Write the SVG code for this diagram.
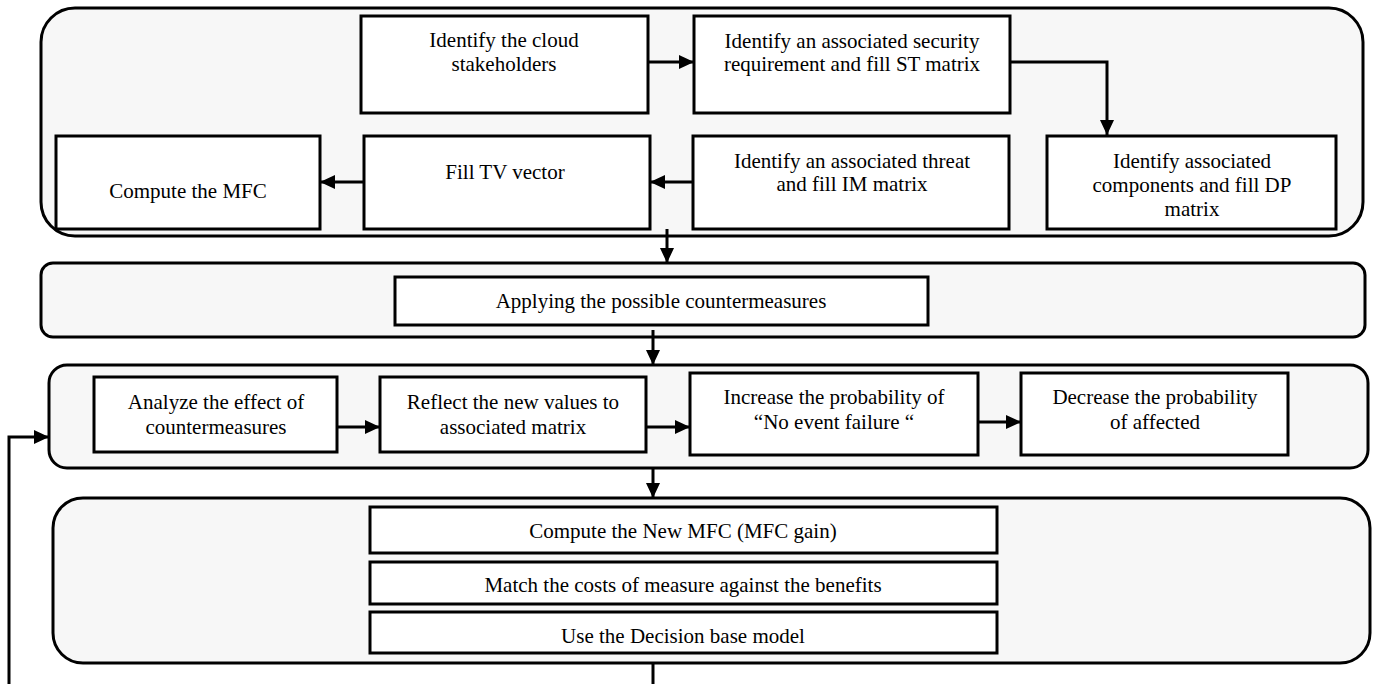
<svg xmlns="http://www.w3.org/2000/svg" width="1376" height="684" viewBox="0 0 1376 684">
<style>
.cont{fill:#f7f7f7;stroke:#000;stroke-width:3}
.box{fill:#fff;stroke:#000;stroke-width:3}
.t{font-family:"Liberation Serif","Times New Roman",serif;font-size:21px;fill:#000;text-anchor:middle}
.c{fill:none;stroke:#000;stroke-width:3}
</style>
<defs>
<marker id="ah" markerUnits="userSpaceOnUse" markerWidth="16" markerHeight="14" refX="15" refY="7" orient="auto">
<path d="M0,0 L15,7 L0,14 Z" fill="#000"/>
</marker>
</defs>
<g id="stage1">
<rect class="cont" x="41" y="8" width="1322" height="228" rx="34" ry="34"/>
</g>
<g id="stage2">
<rect class="cont" x="41" y="263" width="1324" height="74" rx="12" ry="12"/>
</g>
<g id="stage3">
<rect class="cont" x="49" y="365" width="1319" height="103" rx="18" ry="18"/>
</g>
<g id="stage4">
<rect class="cont" x="53" y="498" width="1317" height="165" rx="30" ry="30"/>
</g>
<g id="n-cloud">
<rect class="box" x="361" y="16" width="287" height="97"/>
<text class="t" x="504" y="47">Identify the cloud</text>
<text class="t" x="504" y="71">stakeholders</text>
</g>
<g id="n-st">
<rect class="box" x="694" y="16" width="316" height="97"/>
<text class="t" x="852" y="48">Identify an associated security</text>
<text class="t" x="852" y="71">requirement and fill ST matrix</text>
</g>
<g id="n-mfc">
<rect class="box" x="56" y="136" width="264" height="93"/>
<text class="t" x="188" y="198">Compute the MFC</text>
</g>
<g id="n-tv">
<rect class="box" x="364" y="136" width="286" height="93"/>
<text class="t" x="505" y="179">Fill TV vector</text>
</g>
<g id="n-im">
<rect class="box" x="693" y="136" width="316" height="93"/>
<text class="t" x="852" y="168">Identify an associated threat</text>
<text class="t" x="852" y="191">and fill IM matrix</text>
</g>
<g id="n-dp">
<rect class="box" x="1047" y="136" width="289" height="93"/>
<text class="t" x="1192" y="168">Identify associated</text>
<text class="t" x="1192" y="192">components and fill DP</text>
<text class="t" x="1192" y="216">matrix</text>
</g>
<g id="n-apply">
<rect class="box" x="395" y="277" width="533" height="48"/>
<text class="t" x="661" y="308">Applying the possible countermeasures</text>
</g>
<g id="n-analyze">
<rect class="box" x="94" y="377" width="243" height="75"/>
<text class="t" x="216" y="409">Analyze the effect of</text>
<text class="t" x="216" y="434">countermeasures</text>
</g>
<g id="n-reflect">
<rect class="box" x="380" y="377" width="266" height="75"/>
<text class="t" x="513" y="409">Reflect the new values to</text>
<text class="t" x="513" y="434">associated matrix</text>
</g>
<g id="n-increase">
<rect class="box" x="690" y="373" width="288" height="82"/>
<text class="t" x="834" y="404">Increase the probability of</text>
<text class="t" x="834" y="429">“No event failure “</text>
</g>
<g id="n-decrease">
<rect class="box" x="1021" y="373" width="267" height="82"/>
<text class="t" x="1155" y="404">Decrease the probability</text>
<text class="t" x="1155" y="429">of affected</text>
</g>
<g id="n-newmfc">
<rect class="box" x="370" y="507" width="627" height="46"/>
<text class="t" x="683" y="538">Compute the New MFC (MFC gain)</text>
</g>
<g id="n-match">
<rect class="box" x="370" y="562" width="627" height="42"/>
<text class="t" x="683" y="592">Match the costs of measure against the benefits</text>
</g>
<g id="n-decision">
<rect class="box" x="370" y="612" width="627" height="41"/>
<text class="t" x="683" y="643">Use the Decision base model</text>
</g>
<g id="connectors">
<path class="c" d="M648,62 L694,62" marker-end="url(#ah)"/>
<path class="c" d="M1010,62 L1107,62 L1107,135" marker-end="url(#ah)"/>
<path class="c" d="M693,182 L650,182" marker-end="url(#ah)"/>
<path class="c" d="M364,182 L320,182" marker-end="url(#ah)"/>
<path class="c" d="M667,229 L667,263" marker-end="url(#ah)"/>
<path class="c" d="M653,330 L653,365" marker-end="url(#ah)"/>
<path class="c" d="M337,427 L380,427" marker-end="url(#ah)"/>
<path class="c" d="M646,427 L690,427" marker-end="url(#ah)"/>
<path class="c" d="M978,422 L1021,422" marker-end="url(#ah)"/>
<path class="c" d="M653,468 L653,498" marker-end="url(#ah)"/>
<path class="c" d="M653,663 L653,684"/>
<path class="c" d="M9,684 L9,437 L49,437" marker-end="url(#ah)"/>
</g>
</svg>
